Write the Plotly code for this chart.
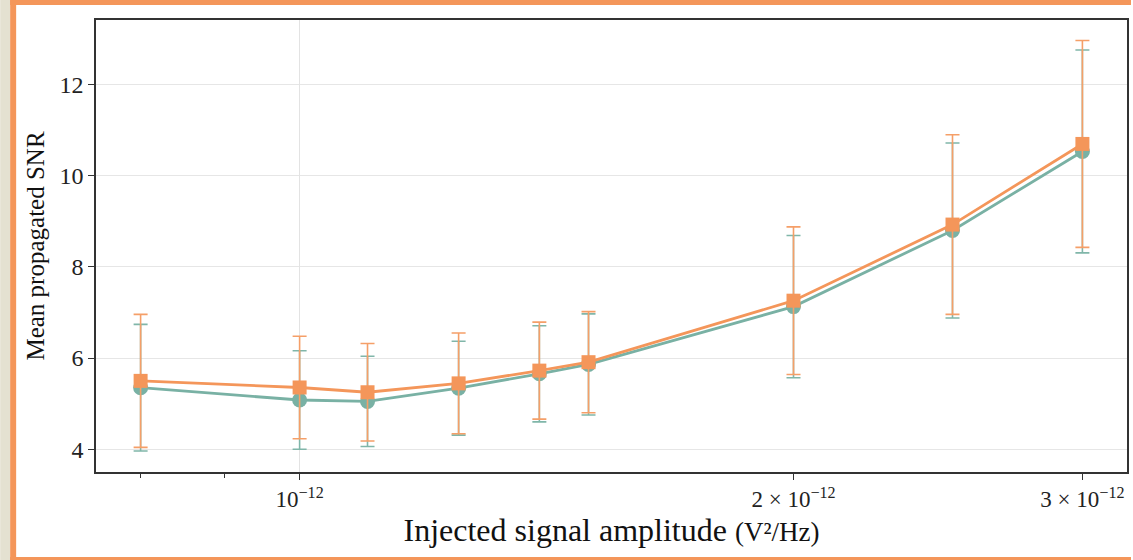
import plotly.graph_objects as go

amplitude = [0.8e-12, 1.0e-12, 1.1e-12, 1.25e-12, 1.4e-12, 1.5e-12, 2.0e-12, 2.5e-12, 3.0e-12]

snr_a = [5.35, 5.08, 5.05, 5.34, 5.655, 5.86, 7.13, 8.80, 10.535]
err_a = [1.39, 1.08, 0.99, 1.03, 1.055, 1.11, 1.56, 1.92, 2.225]

snr_b = [5.50, 5.355, 5.25, 5.445, 5.725, 5.91, 7.26, 8.93, 10.70]
err_b = [1.46, 1.125, 1.07, 1.105, 1.065, 1.11, 1.62, 1.97, 2.27]

x_tickvals = [1e-12, 2e-12, 3e-12]
x_ticktext = ["10<sup>\u221212</sup>", "2 \u00d7 10<sup>\u221212</sup>", "3 \u00d7 10<sup>\u221212</sup>"]
x_minorvals = [0.8e-12, 0.9e-12]
y_tickvals = [4, 6, 8, 10, 12]

TEAL = "#79B1A4"
ORANGE = "#F4965A"
FONT = "Liberation Serif"

fig = go.Figure()
fig.add_trace(go.Scatter(
    x=amplitude, y=snr_a, mode="lines+markers",
    line=dict(color=TEAL, width=2.8),
    marker=dict(symbol="circle", size=15, color=TEAL),
    error_y=dict(type="data", array=err_a, visible=True, color="#80B6A9",
                 thickness=1.6, width=7),
    showlegend=False))
fig.add_trace(go.Scatter(
    x=amplitude, y=snr_b, mode="lines+markers",
    line=dict(color=ORANGE, width=2.8),
    marker=dict(symbol="square", size=14, color=ORANGE),
    error_y=dict(type="data", array=err_b, visible=True, color="#F59F68",
                 thickness=1.6, width=7),
    showlegend=False))

L, R, T, B = 96, 4, 20, 88
W, H = 1133, 560
PW, PH = W - L - R, H - T - B

def px(x):
    return (x - L) / PW

def py(y):
    return (H - B - y) / PH

shapes = [
    dict(type="rect", xref="paper", yref="paper", x0=px(0), x1=px(10), y0=py(560), y1=py(0),
         fillcolor="#E4E1D1", line=dict(width=0), layer="below"),
    dict(type="rect", xref="paper", yref="paper", x0=px(10), x1=px(16), y0=py(560), y1=py(0),
         fillcolor=ORANGE, line=dict(width=0), layer="below"),
    dict(type="rect", xref="paper", yref="paper", x0=px(10), x1=px(1133), y0=py(5), y1=py(0),
         fillcolor=ORANGE, line=dict(width=0), layer="below"),
    dict(type="rect", xref="paper", yref="paper", x0=px(10), x1=px(1133), y0=py(560), y1=py(557),
         fillcolor=ORANGE, line=dict(width=0), layer="below"),
]

fig.update_layout(
    width=W, height=H,
    margin=dict(l=L, r=R, t=T, b=B),
    paper_bgcolor="white", plot_bgcolor="white",
    font=dict(family=FONT, color="#222", size=24),
    shapes=shapes,
    xaxis=dict(
        type="log", range=[-12.1241, -11.4957],
        tickmode="array", tickvals=x_tickvals, ticktext=x_ticktext,
        ticks="outside", ticklen=6, tickwidth=1.2, tickcolor="#333",
        tickfont=dict(family=FONT, size=23, color="#222"),
        showgrid=False, zeroline=False,
        showline=True, linecolor="#333", linewidth=1.5, mirror=True,
        minor=dict(tickmode="array", tickvals=x_minorvals, ticks="outside", ticklen=4,
                   tickwidth=1, tickcolor="#333", showgrid=False),
        title=dict(text="Injected signal amplitude <span style='font-size:27px'>(V\u00b2/Hz)</span>",
                   font=dict(family=FONT, size=32, color="#111"), standoff=2),
    ),
    xaxis2=dict(
        type="log", range=[-12.1241, -11.4957], overlaying="x",
        tickmode="array", tickvals=[1e-12], showticklabels=False, ticks="",
        showgrid=True, gridcolor="#E3E3E3", gridwidth=1, zeroline=False, showline=False,
    ),
    yaxis=dict(
        range=[3.50, 13.42],
        tickmode="array", tickvals=y_tickvals,
        ticks="outside", ticklen=6, tickwidth=1.2, tickcolor="#333",
        tickfont=dict(family=FONT, size=24, color="#222"),
        showgrid=True, gridcolor="#E6E6E6", gridwidth=1, zeroline=False,
        showline=True, linecolor="#333", linewidth=1.5, mirror=True,
        title=dict(text="Mean propagated SNR", font=dict(family=FONT, size=25, color="#111"),
                   standoff=8),
    ),
)
fig.add_trace(go.Scatter(x=[amplitude[0]], y=[None], xaxis="x2", showlegend=False,
                         hoverinfo="skip"))

fig.write_html("out.html")
